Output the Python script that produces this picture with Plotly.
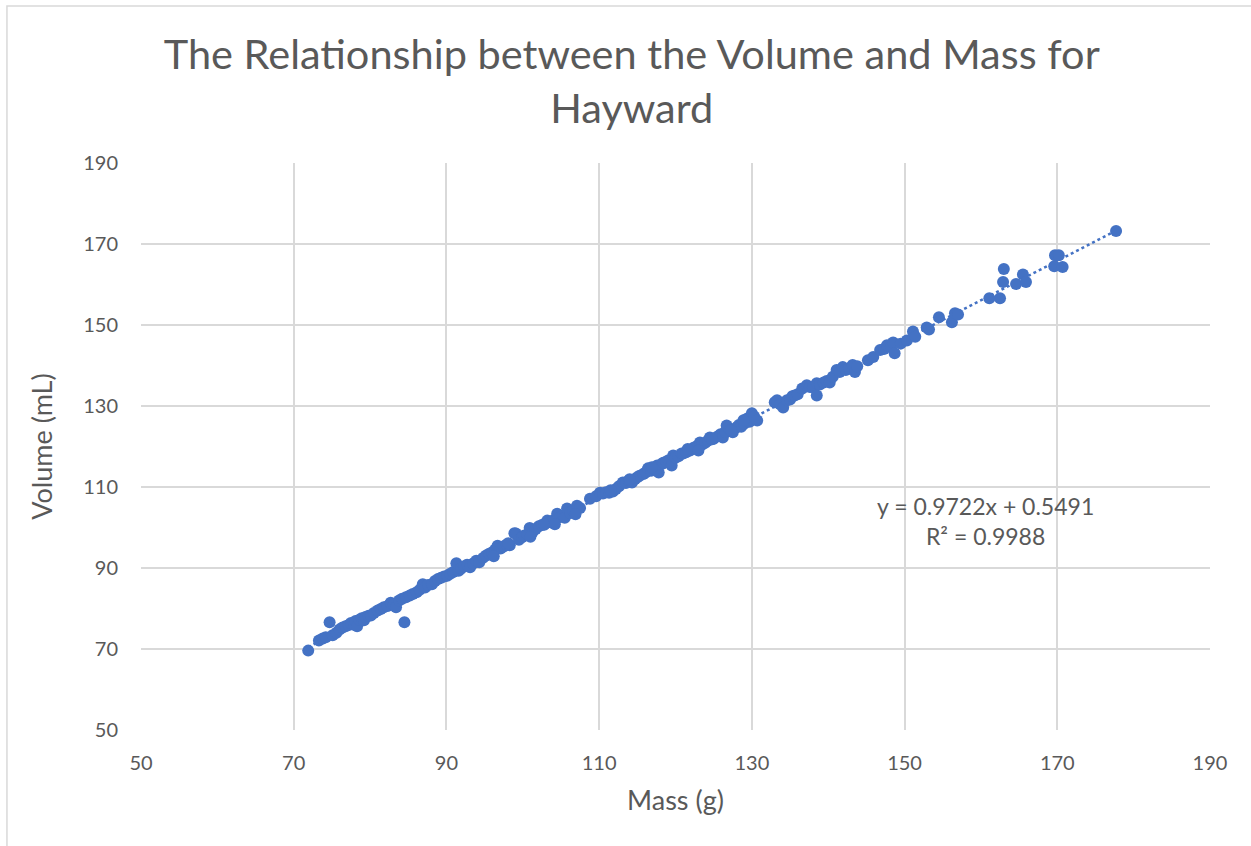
import plotly.graph_objects as go

# Hayward samples: mass (g) and measured volume (mL)
mass = [
    71.9, 73.3, 73.8, 74.2, 74.7, 75.1, 75.6, 76.0, 76.4, 76.8, 77.2, 77.5, 77.9, 78.1, 78.3,
    78.6, 78.9, 79.2, 79.4, 79.8, 80.1, 80.5,
    81.0, 81.4, 81.8, 82.3, 82.7, 83.1, 83.4, 83.8, 84.2, 84.5, 84.7, 85.2, 85.6, 86.1, 86.5,
    86.9, 87.2, 87.6, 88.1, 88.5, 88.9, 89.3, 89.7, 90.1,
    90.5, 90.9, 91.3, 91.6, 91.9, 92.3, 92.7, 93.1, 93.5, 93.9, 94.3, 94.8, 95.2, 95.6, 96.0,
    96.4, 96.7, 97.1, 97.5, 97.9, 98.3, 98.9, 99.1, 99.5, 99.9, 100.2,
    100.6, 100.9, 101.3, 101.7, 102.1, 102.5, 102.9, 103.2, 103.6, 104.0, 104.5, 104.9, 105.3,
    105.5, 105.8, 106.2, 106.6, 107.1, 107.5, 108.8, 109.6, 110.1, 110.5,
    110.9, 111.3, 111.8, 112.2, 112.6, 113.1, 113.5, 113.9, 114.3, 114.7, 115.0, 115.3, 115.8,
    116.1, 116.4, 116.8, 117.2, 117.6, 117.8, 118.2, 118.4, 118.8, 119.1, 119.5, 119.7, 120.0,
    120.4, 120.8, 121.0, 121.4, 121.9, 122.3, 122.7, 123.2, 123.5, 123.9, 124.3, 124.5, 125.0,
    125.5, 125.9, 126.2, 126.5, 126.7, 127.1, 127.5, 127.9, 128.3, 128.6, 129.0, 129.4, 129.7,
    130.0, 130.3, 130.7,
    133.0, 133.3, 133.7, 134.1, 134.6, 135.0, 135.3, 135.6, 136.0, 136.6, 137.2, 137.6, 138.0,
    138.5, 138.5, 138.9, 139.4, 139.8, 140.2, 140.6, 141.1, 141.5, 141.9, 142.3, 142.7, 143.2,
    143.5, 143.8,
    145.2, 145.9, 146.8, 147.3, 147.7, 148.2, 148.5, 148.7, 149.5, 150.3, 151.1, 151.4, 152.9,
    153.2, 154.5, 156.2, 156.6, 157.0,
    161.1, 162.5, 162.9, 163.0, 164.6, 165.5, 165.9, 169.7, 170.2, 169.6, 170.7, 177.7,
    # additional readings in the dense middle range
    96.2, 98.1, 101.0, 102.8, 104.2, 106.9, 111.5, 114.0, 116.9, 121.6, 123.0, 124.8, 127.3,
    128.9,
]
volume = [
    69.6, 72.1, 72.6, 72.9, 76.6, 73.4, 74.0, 74.8, 75.3, 75.6, 75.9, 76.4, 76.0, 76.9, 75.6,
    77.2, 77.6, 77.1, 77.9, 78.2, 78.3, 78.9,
    79.5, 79.9, 80.3, 80.6, 81.4, 81.0, 80.3, 82.0, 82.4, 76.6, 82.8, 83.2, 83.6, 84.0, 84.6,
    86.0, 85.2, 85.8, 86.0, 86.8, 87.3, 87.6, 87.9, 88.1,
    88.6, 89.0, 91.2, 89.3, 89.8, 90.4, 90.8, 90.2, 91.1, 91.8, 91.4, 92.5, 93.1, 93.5, 93.9,
    94.6, 95.5, 94.8, 95.3, 95.8, 95.6, 98.6, 98.5, 97.0, 97.6, 98.0,
    98.3, 99.9, 98.9, 99.6, 100.3, 100.6, 100.9, 101.7, 101.3, 101.8, 103.4, 102.6, 102.9,
    102.4, 104.7, 103.6, 104.2, 105.4, 104.8, 107.1, 107.7, 108.6, 108.4,
    108.7, 108.6, 108.9, 109.5, 110.2, 111.1, 111.0, 111.6, 111.1, 112.0, 112.4, 112.8, 113.2,
    113.6, 114.6, 114.0, 114.5, 115.3, 113.6, 115.7, 116.0, 116.3, 116.6, 115.3, 117.8, 117.2,
    117.6, 118.3, 118.3, 118.6, 119.0, 119.6, 120.0, 121.0, 120.5, 120.9, 121.5, 122.2, 121.9,
    122.5, 123.0, 122.2, 123.6, 125.2, 124.1, 123.5, 124.6, 125.3, 124.9, 125.6, 126.9, 126.1,
    128.2, 127.4, 126.4,
    130.9, 131.4, 130.4, 129.6, 131.4, 131.6, 132.4, 132.6, 132.9, 134.3, 135.1, 134.7, 134.6,
    135.6, 132.6, 135.3, 135.8, 136.2, 135.8, 137.2, 138.9, 138.4, 139.6, 138.9, 139.3, 140.1,
    138.4, 139.8,
    141.3, 142.1, 143.8, 144.1, 145.0, 144.5, 145.7, 143.0, 145.4, 146.2, 148.4, 147.1, 149.4,
    148.9, 151.9, 150.7, 152.9, 152.6,
    156.6, 156.6, 160.6, 163.8, 160.1, 162.5, 160.6, 167.2, 167.2, 164.5, 164.3, 173.2,
    92.9, 96.1, 97.7, 100.7, 100.8, 103.3, 109.2, 111.9, 114.9, 119.4, 119.0, 121.8, 123.9,
    126.5,
]

# Linear trendline coefficients
slope = 0.9722
intercept = 0.5491
r_squared = 0.9988

x_ticks = [50, 70, 90, 110, 130, 150, 170, 190]
y_ticks = [50, 70, 90, 110, 130, 150, 170, 190]

BLUE = "#4472C4"
TEXT = "#595959"
GRID = "#D9D9D9"
FONT = "Lato, 'Open Sans', sans-serif"

x_min, x_max = min(mass), max(mass)
trend_x = [x_min, x_max]
trend_y = [slope * v + intercept for v in trend_x]

fig = go.Figure()
fig.add_trace(go.Scatter(
    x=trend_x, y=trend_y, mode="lines",
    line=dict(color=BLUE, width=2.5, dash="dot"),
    hoverinfo="skip", showlegend=False,
))
fig.add_trace(go.Scatter(
    x=mass, y=volume, mode="markers",
    marker=dict(color=BLUE, size=12, line=dict(width=0)),
    showlegend=False,
))

fig.add_annotation(
    x=160.6, y=101.5, xref="x", yref="y",
    text=f"y = {slope}x + {intercept}<br>R² = {r_squared}",
    showarrow=False, align="center",
    font=dict(family=FONT, size=23, color=TEXT),
)

# Outer chart-area border
fig.add_shape(
    type="rect", xref="paper", yref="paper",
    x0=-0.1254, x1=1.2, y0=-0.3, y1=1.2769,
    line=dict(color=GRID, width=1.5), layer="below",
)

fig.update_layout(
    width=1251, height=846,
    margin=dict(l=141, r=41, t=163, b=116),
    paper_bgcolor="white", plot_bgcolor="white",
    title=dict(
        text="The Relationship between the Volume and Mass for<br>Hayward",
        x=0.505, xanchor="center", y=0.9185, yanchor="middle",
        font=dict(family=FONT, size=41.5, color=TEXT),
    ),
    font=dict(family=FONT, color=TEXT),
    xaxis=dict(
        range=[50, 190], tickvals=x_ticks, ticktext=[str(t) for t in x_ticks],
        showgrid=True, gridcolor=GRID, gridwidth=1.5, zeroline=False,
        showline=False, ticks="", tickfont=dict(size=20, color=TEXT),
        ticklabelstandoff=19,
        title=dict(text="Mass (g)", font=dict(size=27, color=TEXT), standoff=18),
    ),
    yaxis=dict(
        range=[50, 190], tickvals=y_ticks, ticktext=[str(t) for t in y_ticks],
        showgrid=True, gridcolor=GRID, gridwidth=1.5, zeroline=False,
        showline=False, ticks="", tickfont=dict(size=20, color=TEXT),
        ticklabelstandoff=22,
        title=dict(text="Volume (mL)", font=dict(size=27, color=TEXT), standoff=22),
    ),
)

fig.write_html("out.html")
